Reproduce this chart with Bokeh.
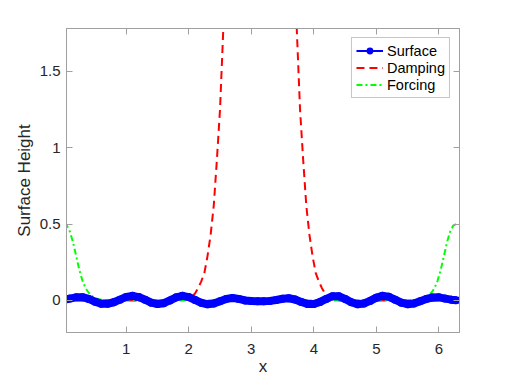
from bokeh.plotting import figure
from bokeh.models import Range1d, LinearAxis, FixedTicker, Legend, LegendItem
from bokeh.embed import file_html
from bokeh.resources import INLINE

# ---- data ----
surf_x = [0.0, 0.1, 0.2, 0.3, 0.4, 0.5, 0.6, 0.7, 0.8, 0.9,
          1.0, 1.1, 1.2, 1.3, 1.4, 1.5, 1.6, 1.7, 1.8, 1.9,
          2.0, 2.1, 2.2, 2.3, 2.4, 2.5, 2.6, 2.7, 2.8, 2.9,
          3.0, 3.1, 3.2, 3.3, 3.4, 3.5, 3.6, 3.7, 3.8, 3.9,
          4.0, 4.1, 4.2, 4.3, 4.4, 4.5, 4.6, 4.7, 4.8, 4.9,
          5.0, 5.1, 5.2, 5.3, 5.4, 5.5, 5.6, 5.7, 5.8, 5.9,
          6.0, 6.1, 6.2, 6.28]
surf_y = [0.003, 0.012, 0.020, 0.021, 0.010, -0.008, -0.022, -0.022, -0.012, 0.005,
          0.023, 0.030, 0.022, 0.005, -0.015, -0.024, -0.018, 0.000, 0.020, 0.030,
          0.022, 0.003, -0.016, -0.025, -0.020, -0.005, 0.010, 0.016, 0.010, 0.000,
          -0.004, -0.005, -0.005, -0.003, 0.003, 0.011, 0.014, 0.006, -0.010, -0.023,
          -0.024, -0.010, 0.010, 0.028, 0.027, 0.010, -0.012, -0.025, -0.020, -0.003,
          0.018, 0.030, 0.024, 0.005, -0.015, -0.025, -0.020, -0.005, 0.010, 0.019,
          0.020, 0.012, 0.005, 0.001]

damp_x = [0.0, 1.8, 1.9, 2.0, 2.05, 2.1, 2.15, 2.2, 2.25, 2.3, 2.35, 2.4, 2.45,
          2.5, 2.55, 2.6, 2.7, 2.9, 3.1416,
          3.38, 3.58, 3.68, 3.73, 3.78, 3.83, 3.88, 3.93, 3.98, 4.03, 4.08,
          4.13, 4.18, 4.23, 4.28, 4.38, 6.28]
damp_y = [0.0, 0.0, 0.002, 0.01, 0.025, 0.045, 0.08, 0.125, 0.18, 0.29, 0.43, 0.62, 0.92,
          1.25, 1.75, 2.4, 4.0, 8.0, 10.0,
          8.0, 4.0, 2.4, 1.75, 1.25, 0.92, 0.62, 0.43, 0.29, 0.18, 0.125,
          0.08, 0.045, 0.025, 0.01, 0.0, 0.0]

force_x = [0.0, 0.05, 0.1, 0.15, 0.2, 0.25, 0.3, 0.35, 0.4, 0.45, 0.5, 0.6, 0.7,
           5.58, 5.68, 5.78, 5.83, 5.88, 5.93, 5.98, 6.03, 6.08, 6.13, 6.18, 6.23, 6.28]
force_y = [0.5, 0.49, 0.45, 0.38, 0.29, 0.2, 0.13, 0.08, 0.05, 0.03, 0.015, 0.004, 0.0,
           0.0, 0.004, 0.015, 0.03, 0.05, 0.08, 0.13, 0.2, 0.29, 0.38, 0.45, 0.49, 0.5]

x_ticks = [1, 2, 3, 4, 5, 6]
y_ticks = [0, 0.5, 1, 1.5]
y_tick_labels = ["0", "0.5", "1", "1.5"]
series_names = ["Surface", "Damping", "Forcing"]
x_label = "x"
y_label = "Surface Height"

FONT = "Liberation Sans"
TXT = "#262626"
AX = "#a0a0a0"
BLUE = "#0000ff"

p = figure(width=507, height=380, output_backend="svg", toolbar_location=None,
           x_range=Range1d(0.045, 6.33), y_range=Range1d(-0.21, 1.78),
           min_border_left=66, min_border_right=48, min_border_top=28,
           min_border_bottom=48)
p.background_fill_color = "white"
p.border_fill_color = "white"
p.outline_line_color = AX
p.grid.visible = False

def style_axis(ax):
    ax.axis_line_color = AX
    ax.major_tick_line_color = AX
    ax.major_tick_in = 6
    ax.major_tick_out = 0
    ax.minor_tick_line_color = None
    ax.major_label_text_font = FONT
    ax.major_label_text_color = TXT
    ax.major_label_text_font_size = "15px"

def style_label(ax, text, standoff):
    ax.axis_label = text
    ax.axis_label_text_font = FONT
    ax.axis_label_text_font_size = "17px"
    ax.axis_label_text_font_style = "normal"
    ax.axis_label_text_color = TXT
    ax.axis_label_standoff = standoff

xa = p.xaxis[0]
ya = p.yaxis[0]
xa.ticker = FixedTicker(ticks=x_ticks)
ya.ticker = FixedTicker(ticks=y_ticks)
ya.major_label_overrides = {t: l for t, l in zip(y_ticks, y_tick_labels)}
style_axis(xa)
style_axis(ya)
xa.major_label_standoff = 11
ya.major_label_standoff = 6
style_label(xa, x_label, 0)
style_label(ya, y_label, 3)

top_ax = LinearAxis(ticker=FixedTicker(ticks=x_ticks))
right_ax = LinearAxis(ticker=FixedTicker(ticks=y_ticks))
style_axis(top_ax)
style_axis(right_ax)
top_ax.major_label_overrides = {t: "" for t in x_ticks}
right_ax.major_label_overrides = {t: "" for t in y_ticks}
top_ax.major_label_standoff = 0
right_ax.major_label_standoff = 0
p.add_layout(top_ax, "above")
p.add_layout(right_ax, "right")

r_damp = p.line(damp_x, damp_y, line_color="#ff0000", line_width=2, line_dash="8 5")
r_force = p.line(force_x, force_y, line_color="#00ff00", line_width=2, line_dash="6 3 2 3")
# surface: dense markers joined by a line form a thick band
p.line(surf_x, surf_y, line_color=BLUE, line_width=8, line_join="round")
p.scatter(surf_x, surf_y, marker="circle", size=8, fill_color=BLUE, line_color=None)
# thin line + dot (hidden inside the band) used as the legend sample
leg_line = p.line(surf_x, surf_y, line_color=BLUE, line_width=2)
leg_dot = p.scatter(surf_x, surf_y, marker="circle", size=6, fill_color=BLUE, line_color=None)

legend = Legend(items=[LegendItem(label=series_names[0], renderers=[leg_line, leg_dot]),
                       LegendItem(label=series_names[1], renderers=[r_damp]),
                       LegendItem(label=series_names[2], renderers=[r_force])],
                location="top_right", margin=9, padding=4, spacing=0,
                label_height=17, glyph_height=17, glyph_width=27, label_standoff=4,
                label_text_font=FONT, label_text_font_size="14.5px",
                label_text_color="#000000",
                border_line_color="#8c8c8c", border_line_width=1,
                background_fill_color="white", background_fill_alpha=1.0)
p.add_layout(legend)

open("out.html", "w").write(file_html(p, INLINE))
